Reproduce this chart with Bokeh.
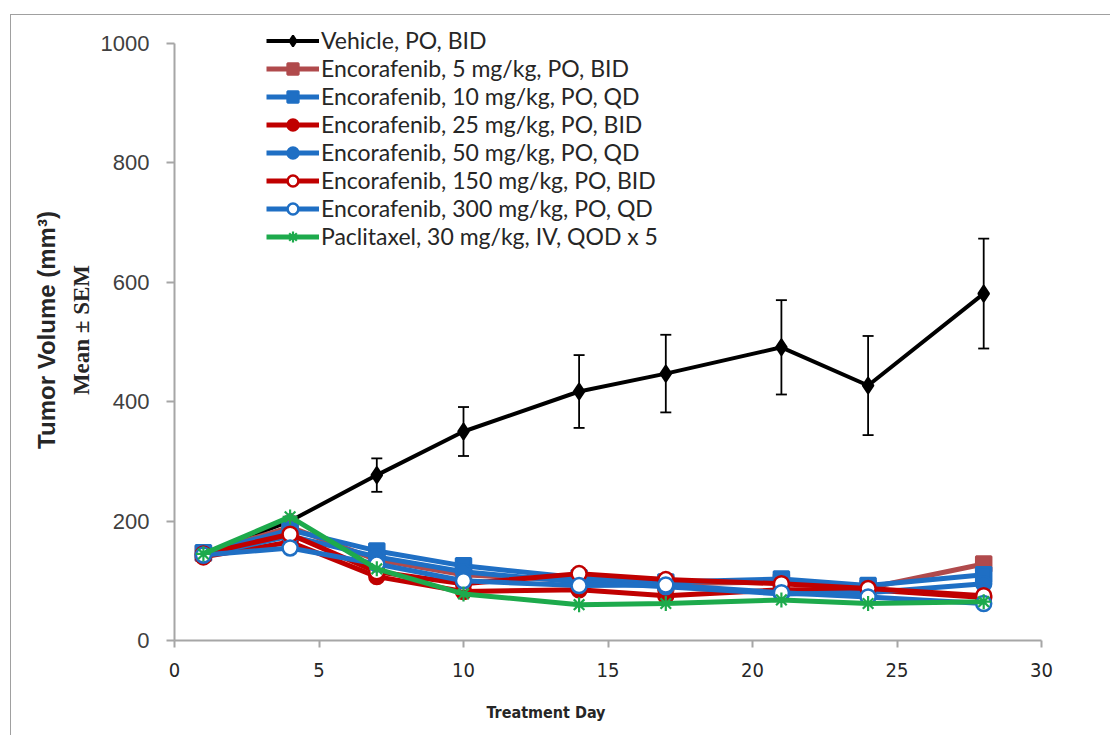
from bokeh.plotting import figure
from bokeh.models import (ColumnDataSource, Whisker, TeeHead, Legend, LegendItem,
                          FixedTicker, LinearAxis, Range1d, Title)
from bokeh.embed import file_html
from bokeh.resources import INLINE

days = [1, 4, 7, 10, 14, 17, 21, 24, 28]
vehicle = [145, 200, 277, 350, 417, 447, 491, 427, 581]
vehicle_sem = [4, 8, 28, 41, 61, 65, 79, 83, 92]
enc5 = [146, 190, 135, 110, 100, 95, 98, 88, 128]
enc10 = [147, 185, 150, 125, 105, 98, 103, 92, 110]
enc25 = [140, 165, 107, 82, 85, 75, 85, 85, 72]
enc50 = [143, 175, 140, 115, 98, 90, 78, 80, 95]
enc150 = [145, 178, 115, 95, 112, 102, 95, 87, 75]
enc300 = [143, 155, 128, 100, 92, 93, 80, 73, 62]
pac = [145, 207, 120, 78, 60, 62, 68, 62, 65]

names = ["Vehicle, PO, BID",
         "Encorafenib, 5 mg/kg, PO, BID",
         "Encorafenib, 10 mg/kg, PO, QD",
         "Encorafenib, 25 mg/kg, PO, BID",
         "Encorafenib, 50 mg/kg, PO, QD",
         "Encorafenib, 150 mg/kg, PO, BID",
         "Encorafenib, 300 mg/kg, PO, QD",
         "Paclitaxel, 30 mg/kg, IV, QOD x 5"]
x_ticks = [0, 5, 10, 15, 20, 25, 30]
y_ticks = [0, 200, 400, 600, 800, 1000]

BLACK = "#000000"
BROWN = "#B04A4C"
BLUE = "#1F6FC4"
RED = "#C00000"
GREEN = "#1DAA4C"

styles = [
    dict(data=vehicle, color=BLACK, marker="diamond", size=16, fill=BLACK, lw=4, mlw=2),
    dict(data=enc5, color=BROWN, marker="square", size=15, fill=BROWN, lw=5, mlw=2.5),
    dict(data=enc10, color=BLUE, marker="square", size=15, fill=BLUE, lw=5, mlw=2.5),
    dict(data=enc25, color=RED, marker="circle", size=15, fill=RED, lw=5, mlw=2.5),
    dict(data=enc50, color=BLUE, marker="circle", size=15, fill=BLUE, lw=5, mlw=2.5),
    dict(data=enc150, color=RED, marker="circle", size=15, fill="white", lw=5, mlw=2.5),
    dict(data=enc300, color=BLUE, marker="circle", size=15, fill="white", lw=5, mlw=2.5),
    dict(data=pac, color=GREEN, marker="asterisk", size=15, fill=GREEN, lw=5, mlw=2.2),
]

# frame: 1000 at y=42, 0 at y=639 (0.597 px/unit); range extended to 1040 so legend fits
p = figure(output_backend="svg", toolbar_location=None,
           frame_width=867, frame_height=621,
           min_border_left=163, min_border_right=70,
           min_border_top=4, min_border_bottom=96,
           x_range=Range1d(0, 30), y_range=Range1d(0, 1040),
           margin=(14, 0, 0, 10),
           styles={"border-left": "1.5px solid #a0a0a0", "border-top": "1.5px solid #a0a0a0"})
p.grid.visible = False
p.outline_line_color = None
p.background_fill_color = "white"
p.border_fill_color = "white"

items = []
for name, st in zip(names, styles):
    r_line = p.line(days, st["data"], line_color=st["color"], line_width=st["lw"])
    r_m = p.scatter(days, st["data"], marker=st["marker"], size=st["size"],
                    fill_color=st["fill"], line_color=st["color"], line_width=st["mlw"])
    items.append(LegendItem(label=name, renderers=[r_line, r_m]))

src = ColumnDataSource(dict(x=days,
                            upper=[v + s for v, s in zip(vehicle, vehicle_sem)],
                            lower=[v - s for v, s in zip(vehicle, vehicle_sem)]))
w = Whisker(base="x", upper="upper", lower="lower", source=src,
            line_color="black", line_width=1.8,
            upper_head=TeeHead(size=11, line_width=1.8, line_color="black"),
            lower_head=TeeHead(size=11, line_width=1.8, line_color="black"))
p.add_layout(w)

legend = Legend(items=items, location=(92, 390), padding=0, margin=0,
                spacing=0, glyph_width=53, glyph_height=27, label_height=27,
                label_standoff=2, label_text_font="Lato", label_text_font_size="23px",
                label_text_line_height=1.0,
                label_text_color="#262626", background_fill_alpha=0,
                border_line_color=None)
p.add_layout(legend, "center")

# axes
xa = p.xaxis[0]
xa.ticker = FixedTicker(ticks=x_ticks)
xa.axis_line_color = "#a6a6a6"
xa.axis_line_width = 2
xa.major_tick_line_color = "#a6a6a6"
xa.major_tick_line_width = 2
xa.major_tick_out = 7
xa.major_tick_in = 0
xa.minor_tick_line_color = None
xa.major_label_text_font = "DejaVu Sans Condensed"
xa.major_label_text_font_size = "20px"
xa.major_label_text_color = "#262626"
xa.major_label_standoff = 15

ya = p.yaxis[0]
ya.ticker = FixedTicker(ticks=y_ticks)
ya.bounds = (0, 1000)
ya.axis_line_color = "#a6a6a6"
ya.axis_line_width = 2
ya.major_tick_line_color = "#a6a6a6"
ya.major_tick_line_width = 2
ya.major_tick_out = 8
ya.major_tick_in = 0
ya.minor_tick_line_color = None
ya.major_label_text_font = "Liberation Sans"
ya.major_label_text_font_size = "22px"
ya.major_label_text_color = "#404040"
ya.major_label_standoff = 17
ya.axis_label = "Mean ± SEM"
ya.axis_label_text_font = "Liberation Serif"
ya.axis_label_text_font_style = "bold"
ya.axis_label_text_font_size = "23px"
ya.axis_label_text_color = "#262626"
ya.axis_label_standoff = 4

ya2 = LinearAxis(axis_label="Tumor Volume (mm³)", ticker=FixedTicker(ticks=[]),
                 axis_line_color=None, major_tick_line_color=None,
                 minor_tick_line_color=None, major_label_text_font_size="0px",
                 axis_label_text_font="Liberation Sans", axis_label_text_font_style="bold",
                 axis_label_text_font_size="24px", axis_label_text_color="#262626",
                 axis_label_standoff=6)
p.add_layout(ya2, "left")

p.add_layout(Title(text="Treatment Day", align="left", offset=312, standoff=42,
                   text_font="DejaVu Sans Condensed", text_font_style="bold",
                   text_font_size="16px", text_color="#262626"), "below")

open("out.html", "w").write(file_html(p, INLINE))
